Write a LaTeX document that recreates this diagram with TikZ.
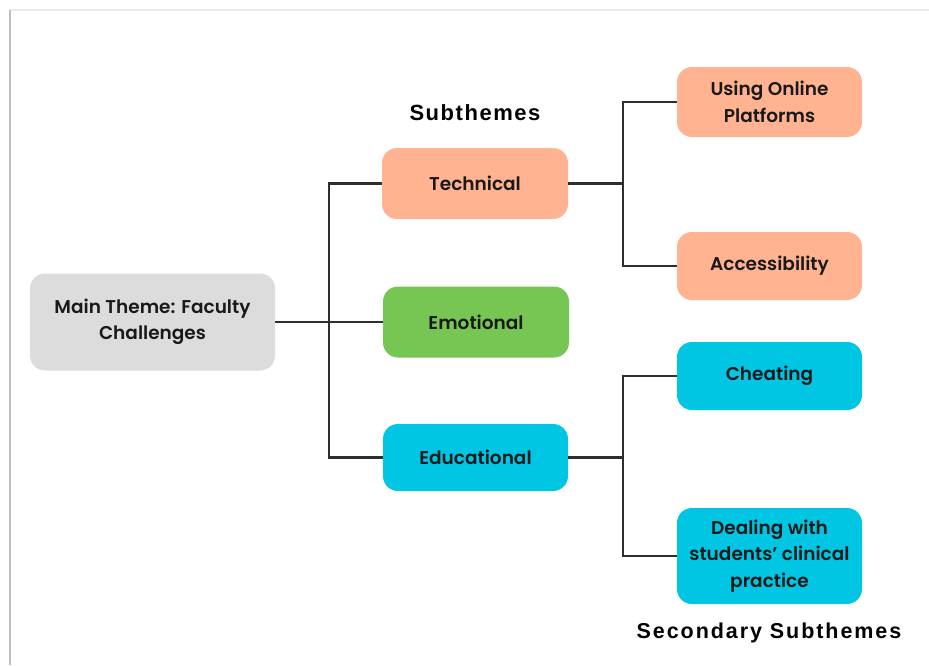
\documentclass[tikz,border=0pt]{standalone}
\usepackage{fontspec}
\setmainfont{Poppins}[BoldFont=* SemiBold]
\newfontfamily\headfont{Liberation Sans}[LetterSpace=7]
\newfontfamily\subheadfont{Liberation Sans}[LetterSpace=9]
\definecolor{boxgrey}{HTML}{DCDCDC}
\definecolor{salmon}{HTML}{FFB391}
\definecolor{leaf}{HTML}{77C653}
\definecolor{aqua}{HTML}{00C5E3}
\definecolor{wire}{HTML}{2E2E2E}
\begin{document}
\begin{tikzpicture}[x=1pt,y=-1pt,
  card/.style={rounded corners=15pt, inner sep=0pt, align=center,
    font=\bfseries\fontsize{18.5}{26.5}\selectfont, text=black!90},
  link/.style={draw=wire, line width=2.3pt}]
\useasboundingbox (0,0) rectangle (929,665);
\fill[white] (0,0) rectangle (929,665);
% page edge shadow
\draw[black!8, line width=2pt] (10,10) -- (929,10);
\draw[black!25, line width=2pt] (10,10) -- (10,665);

% main theme
\node[card, fill=boxgrey, minimum width=245pt, minimum height=97pt] (main) at (152.5,322) {Main Theme: Faculty\\Challenges};
% subthemes
\node[card, fill=salmon, minimum width=186pt, minimum height=71pt] (tech) at (475,183.5) {Technical};
\node[card, fill=leaf, minimum width=186pt, minimum height=71pt] (emo) at (476,322) {Emotional};
\node[card, fill=aqua, minimum width=185pt, minimum height=67pt] (edu) at (475.5,457.5) {Educational};
% secondary subthemes
\node[card, fill=salmon, minimum width=185pt, minimum height=70pt] (online) at (769.5,102) {Using Online\\Platforms};
\node[card, fill=salmon, minimum width=185pt, minimum height=68pt] (access) at (769.5,266) {Accessibility};
\node[card, fill=aqua, minimum width=185pt, minimum height=68pt] (cheat) at (769.5,376) {Cheating};
\node[card, fill=aqua, minimum width=185pt, minimum height=96pt] (clinic) at (769.5,556) {Dealing with\\students’ clinical\\practice};

% headings
\node[font=\headfont\bfseries\fontsize{22}{26}\selectfont] (subhead) at (475,113) {Subthemes};
\node[font=\subheadfont\bfseries\fontsize{21.5}{25}\selectfont] (sechead) at (769,633) {Secondary Subthemes};

% junction points
\coordinate (trunk) at (329,0);
\coordinate (forkA) at (623,0);

% main theme to subthemes
\draw[link] (main.east) -- (emo.west);
\draw[link] (tech.west) -- (tech.west -| trunk) -- (edu.west -| trunk) -- (edu.west);
% technical branch
\draw[link] (tech.east) -- (tech.east -| forkA);
\draw[link] (online.west) -- (online.west -| forkA) -- (access.west -| forkA) -- (access.west);
% educational branch
\draw[link] (edu.east) -- (edu.east -| forkA);
\draw[link] (cheat.west) -- (cheat.west -| forkA) -- (clinic.west -| forkA) -- (clinic.west);
\end{tikzpicture}
\end{document}
